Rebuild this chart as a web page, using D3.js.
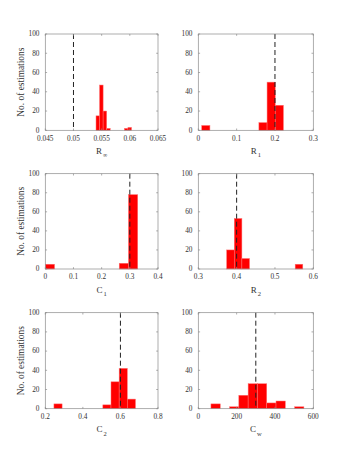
<!DOCTYPE html>
<html>
  <head>
<meta charset="utf-8">
<style>
  body { margin: 0; background: #fff; }
  text { font-family: "Liberation Serif", "DejaVu Serif", serif; fill: #333; }
  .box { fill: none; stroke: #8a8a8a; stroke-width: 0.7px; }
  .tick { stroke: #8a8a8a; stroke-width: 0.7px; }
  .bar { fill: #ff0000; stroke: #ff7070; stroke-width: 0.5px; }
  .truth { stroke: #222; stroke-width: 1px; stroke-dasharray: 5,3; }
</style>
</head>
<body>
<div id="chart"></div>
<script src="https://cdn.jsdelivr.net/npm/d3@7"></script>
<script>
    var width = 350, height = 464;

    // 10-bin histograms of 89 estimations: [min, max] of each run and the counts per bin
    var names = ["R", "R", "C", "R", "C", "C"];
    var subs = ["\u221e", "1", "1", "2", "2", "w"];
    var ranges = [[0.0540, 0.0603], [0.009, 0.222], [0.0, 0.328], [0.374, 0.5726], [0.246, 0.680], [66, 551]];
    var countsRinf = [15, 47, 20, 2, 0, 0, 0, 0, 2, 3];
    var countsR1 = [5, 0, 0, 0, 0, 0, 0, 8, 50, 26];
    var countsC1 = [5, 0, 0, 0, 0, 0, 0, 0, 6, 78];
    var countsR2 = [20, 53, 11, 0, 0, 0, 0, 0, 0, 5];
    var countsC2 = [5, 0, 0, 0, 0, 0, 4, 28, 42, 10];
    var countsCw = [5, 0, 2, 14, 26, 26, 6, 8, 0, 2];
    var counts = [countsRinf, countsR1, countsC1, countsR2, countsC2, countsCw];
    var trueValues = [0.05, 0.2, 0.3, 0.4, 0.6, 300];
    var xDomains = [[0.045, 0.065], [0, 0.3], [0, 0.4], [0.3, 0.6], [0.2, 0.8], [0, 600]];
    var xTicks = [
        [0.045, 0.05, 0.055, 0.06, 0.065],
        [0, 0.1, 0.2, 0.3],
        [0, 0.1, 0.2, 0.3, 0.4],
        [0.3, 0.4, 0.5, 0.6],
        [0.2, 0.4, 0.6, 0.8],
        [0, 200, 400, 600]
    ];
    var yTicks = [0, 20, 40, 60, 80, 100];

    var cols = [[45.3, 158], [198.3, 313.3]];
    var rows = [[34, 130.3], [173.7, 269], [312.7, 408.7]];

    var svg = d3.select("#chart").append("svg")
            .attr("width", width)
            .attr("height", height);

    function drawPanel(i) {
        var c = cols[i % 2], r = rows[Math.floor(i / 2)];
        var x = d3.scaleLinear().domain(xDomains[i]).range(c);
        var y = d3.scaleLinear().domain([0, 100]).range([r[1], r[0]]);
        var g = svg.append("g");

        var lo = ranges[i][0], w = (ranges[i][1] - ranges[i][0]) / counts[i].length;
        var bins = counts[i].map(function (n, k) { return { x0: lo + k * w, x1: lo + (k + 1) * w, n: n }; })
                .filter(function (b) { return b.n > 0; });

        g.selectAll(".bar").data(bins).enter().append("rect")
                .attr("class", "bar")
                .attr("x", function (b) { return x(b.x0); })
                .attr("width", function (b) { return x(b.x1) - x(b.x0); })
                .attr("y", function (b) { return y(b.n); })
                .attr("height", function (b) { return y(0) - y(b.n); });

        g.append("line")
                .attr("class", "truth")
                .attr("x1", x(trueValues[i])).attr("x2", x(trueValues[i]))
                .attr("y1", r[0]).attr("y2", r[1]);

        g.append("rect")
                .attr("class", "box")
                .attr("x", c[0]).attr("y", r[0])
                .attr("width", c[1] - c[0]).attr("height", r[1] - r[0]);

        // inward ticks on all four sides
        var tl = 1.8;
        xTicks[i].forEach(function (t) {
            g.append("line").attr("class", "tick")
                    .attr("x1", x(t)).attr("x2", x(t)).attr("y1", r[1]).attr("y2", r[1] - tl);
            g.append("line").attr("class", "tick")
                    .attr("x1", x(t)).attr("x2", x(t)).attr("y1", r[0]).attr("y2", r[0] + tl);
            g.append("text")
                    .attr("x", x(t)).attr("y", r[1] + 10.2)
                    .attr("text-anchor", "middle")
                    .style("font-size", "7.3px")
                    .text(d3.format("~g")(t));
        });
        yTicks.forEach(function (t) {
            g.append("line").attr("class", "tick")
                    .attr("x1", c[0]).attr("x2", c[0] + tl).attr("y1", y(t)).attr("y2", y(t));
            g.append("line").attr("class", "tick")
                    .attr("x1", c[1]).attr("x2", c[1] - tl).attr("y1", y(t)).attr("y2", y(t));
            g.append("text")
                    .attr("x", c[0] - 5.8).attr("y", y(t) + 2.3)
                    .attr("text-anchor", "end")
                    .style("font-size", "7.3px")
                    .text(t);
        });

        var lab = g.append("text")
                .attr("x", (c[0] + c[1]) / 2).attr("y", r[1] + 23.5)
                .attr("text-anchor", "middle")
                .style("font-size", "9px");
        lab.append("tspan").text(names[i]);
        lab.append("tspan").attr("dx", 1).attr("dy", 3.5)
                .style("font-size", i == 0 ? "6px" : "6.5px").text(subs[i]);

        if (i % 2 == 0) {
            g.append("text")
                    .attr("transform", "translate(" + (c[0] - 21.5) + "," + ((r[0] + r[1]) / 2) + ") rotate(-90)")
                    .attr("text-anchor", "middle")
                    .style("font-size", "9.4px")
                    .text("No. of estimations");
        }
    }

    for (var i = 0; i < 6; i++) drawPanel(i);
</script>
</body>
</html>
